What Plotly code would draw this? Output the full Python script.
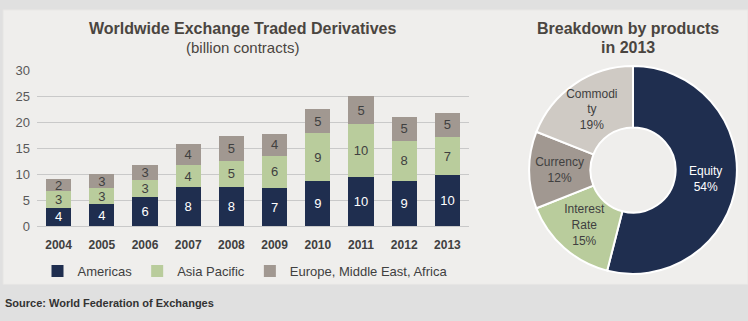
import plotly.graph_objects as go

years = ["2004", "2005", "2006", "2007", "2008", "2009", "2010", "2011", "2012", "2013"]
americas = [3.6, 4.2, 5.55, 7.5, 7.6, 7.35, 8.7, 9.55, 8.8, 9.8]
asia_pacific = [3.1, 3.1, 3.3, 4.3, 5.0, 6.25, 9.2, 10.2, 7.7, 7.35]
emea = [2.4, 2.75, 3.0, 4.0, 4.8, 4.2, 4.65, 5.3, 4.6, 4.75]

products = ["Equity", "Interest Rate", "Currency", "Commodity"]
product_text = ["Equity", "Interest<br>Rate", "Currency", "Commodi<br>ty"]
product_share = [54, 15, 12, 19]

FONT = "Liberation Sans, Arial, sans-serif"
NAVY = "#1f2e4f"
GREEN = "#b9cc9c"
TAUPE = "#a19891"
LIGHT = "#cfcac4"
TXT = "#404040"

fig = go.Figure()
for name, vals, col, tcol in [
    ("Americas", americas, NAVY, "white"),
    ("Asia Pacific", asia_pacific, GREEN, TXT),
    ("Europe, Middle East, Africa", emea, TAUPE, TXT),
]:
    fig.add_trace(go.Bar(
        x=years, y=vals, name=name, marker=dict(color=col, line=dict(width=0)),
        texttemplate="%{y:.0f}", textposition="inside", insidetextanchor="middle",
        textangle=0,
        textfont=dict(size=13, color=tcol, family=FONT), constraintext="none",
        hoverinfo="skip",
    ))

fig.add_trace(go.Pie(
    labels=products, values=product_share, text=product_text,
    texttemplate="%{text}<br>%{percent:.0%}", textposition="inside",
    insidetextorientation="horizontal", sort=False, direction="clockwise",
    rotation=0, hole=0.41,
    marker=dict(colors=[NAVY, GREEN, TAUPE, LIGHT], line=dict(color="white", width=2)),
    textfont=dict(size=12, color=["white", TXT, TXT, TXT], family=FONT),
    domain=dict(x=[524 / 748, 742 / 748], y=[1 - 280 / 321, 1 - 62 / 321]),
    showlegend=False, hoverinfo="skip",
))

fig.update_layout(
    width=748, height=321, margin=dict(l=0, r=0, t=0, b=0),
    paper_bgcolor="#e0e0e0", plot_bgcolor="rgba(0,0,0,0)",
    font=dict(family=FONT, color=TXT, size=12),
    barmode="stack", bargap=0.42,
    uniformtext=dict(minsize=12, mode="show"),
    xaxis=dict(domain=[37 / 748, 469 / 748], showgrid=False, showline=False, ticks="",
               tickfont=dict(size=12, color=TXT, family=FONT),
               tickprefix="<b>", ticksuffix="</b>", ticklabelstandoff=10, fixedrange=True),
    yaxis=dict(domain=[1 - 230 / 321, 1 - 66.7 / 321], range=[0, 30], dtick=5,
               showgrid=True, gridcolor="#c9c9c9", gridwidth=1, zeroline=True,
               zerolinecolor="#c9c9c9", zerolinewidth=1, showline=False,
               tickfont=dict(size=13, color="#595959"), ticklabelstandoff=6, fixedrange=True),
    legend=dict(orientation="h", x=245 / 748, xanchor="center", y=1 - 277 / 321, yanchor="middle",
                font=dict(size=13, color=TXT), bgcolor="rgba(0,0,0,0)", traceorder="normal",
                itemwidth=30, tracegroupgap=0),
    shapes=[dict(type="rect", xref="paper", yref="paper", x0=3 / 748, x1=1, y0=1 - 291 / 321,
                 y1=1 - 3 / 321, fillcolor="#efeeec", line=dict(color="#e6e5e3", width=1),
                 layer="below")],
    annotations=[
        dict(text="<b>Worldwide Exchange Traded Derivatives</b>", x=242 / 748, y=1 - 23 / 321,
             xref="paper", yref="paper", xanchor="center", yanchor="middle", showarrow=False,
             font=dict(size=16, color="#4a4540")),
        dict(text="(billion contracts)", x=242 / 748, y=1 - 42 / 321,
             xref="paper", yref="paper", xanchor="center", yanchor="middle", showarrow=False,
             font=dict(size=15, color="#4a4540")),
        dict(text="<b>Breakdown by products</b>", x=628 / 748, y=1 - 23 / 321,
             xref="paper", yref="paper", xanchor="center", yanchor="middle", showarrow=False,
             font=dict(size=16, color="#4a4540")),
        dict(text="<b>in 2013</b>", x=628 / 748, y=1 - 42 / 321,
             xref="paper", yref="paper", xanchor="center", yanchor="middle", showarrow=False,
             font=dict(size=16, color="#4a4540")),
        dict(text="<b>Source: World Federation of Exchanges</b>", x=3 / 748, y=1 - 311 / 321,
             xref="paper", yref="paper", xanchor="left", yanchor="middle", showarrow=False,
             font=dict(size=11, color="#333333")),
    ],
)

fig.write_html("out.html")
